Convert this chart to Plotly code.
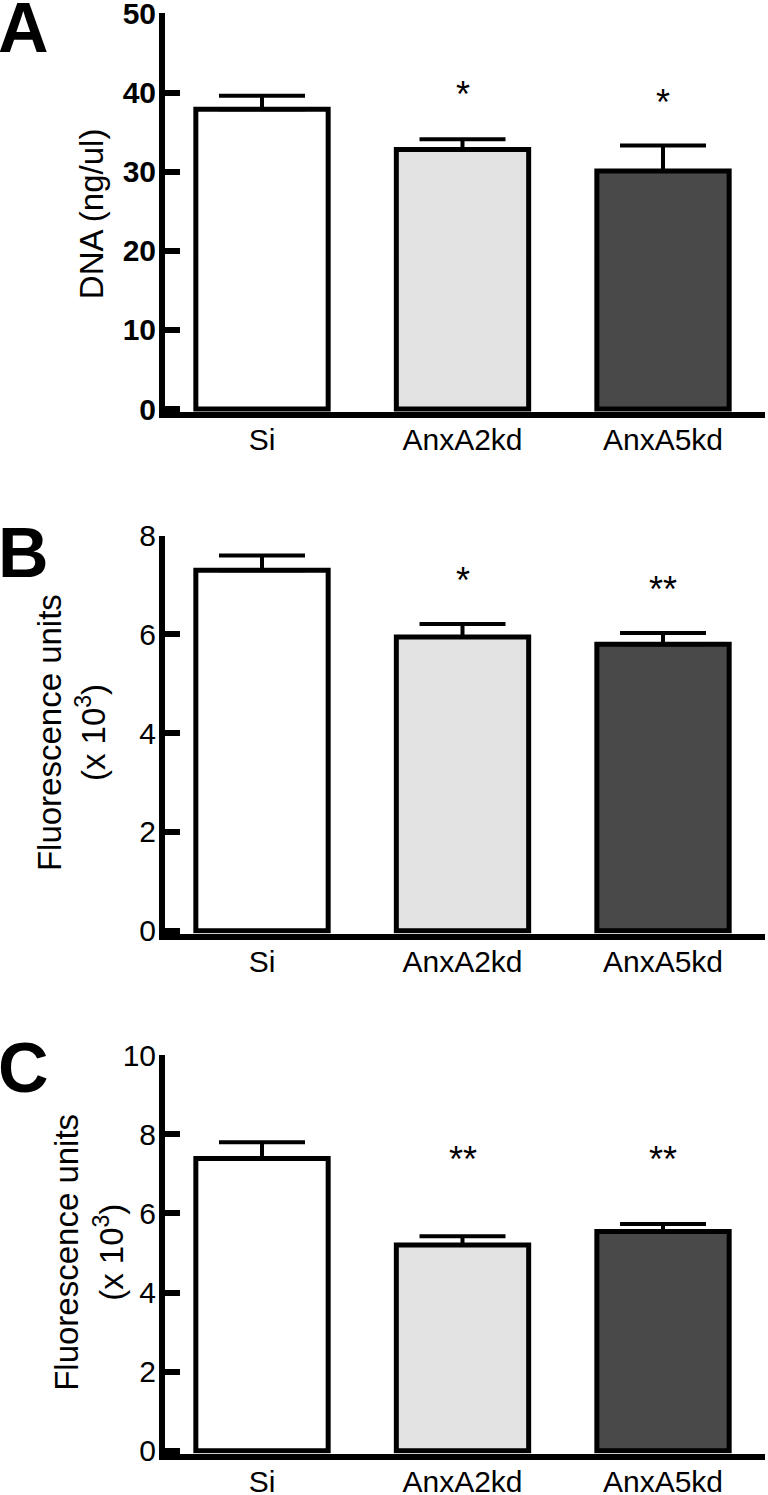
import plotly.graph_objects as go

W, H = 768, 1495

categories = ["Si", "AnxA2kd", "AnxA5kd"]
bar_colors = ["#ffffff", "#e3e3e3", "#494949"]

# Panel A: DNA (ng/ul)
a_values = [37.9, 32.8, 30.1]
a_errors = [1.7, 1.3, 3.2]
a_sig = ["", "*", "*"]
a_sig_y = [0, 39.8, 38.8]

# Panel B: Fluorescence units (x 10^3)
b_values = [7.3, 5.95, 5.8]
b_errors = [0.3, 0.26, 0.23]
b_sig = ["", "*", "**"]
b_sig_y = [0, 7.09, 6.92]

# Panel C: Fluorescence units (x 10^3)
c_values = [7.39, 5.2, 5.54]
c_errors = [0.41, 0.22, 0.19]
c_sig = ["", "**", "**"]
c_sig_y = [0, 7.36, 7.36]

FONT = "Arial, 'Liberation Sans', Helvetica, sans-serif"

panels = [
    dict(vals=a_values, errs=a_errors, sig=a_sig, sig_y=a_sig_y, ymax=50, dtick=10,
         zero_px=415.0, top_px=13.3, bold=True, letter="A"),
    dict(vals=b_values, errs=b_errors, sig=b_sig, sig_y=b_sig_y, ymax=8, dtick=2,
         zero_px=936.7, top_px=535.5, bold=False, letter="B"),
    dict(vals=c_values, errs=c_errors, sig=c_sig, sig_y=c_sig_y, ymax=10, dtick=2,
         zero_px=1456.7, top_px=1055.0, bold=False, letter="C"),
]

fig = go.Figure()
LW = 6
x_left_px, x_right_px = 165.0, 765.0
cat0_px, cat_step = 262.0, 200.5
xr = [-(cat0_px - x_left_px) / cat_step, (x_right_px - cat0_px) / cat_step]

layout = dict(
    width=W, height=H, margin=dict(l=0, r=0, t=0, b=0, autoexpand=False),
    paper_bgcolor="white", plot_bgcolor="white", showlegend=False,
    annotations=[],
)

for i, p in enumerate(panels):
    n = "" if i == 0 else str(i + 1)
    xa, ya = "x" + n, "y" + n
    scale = (p["zero_px"] - p["top_px"]) / p["ymax"]
    dom_bottom_px = p["zero_px"] - LW / 2
    ymin = -(LW / 2) / scale
    fig.add_trace(go.Bar(
        x=list(range(len(categories))), y=p["vals"], xaxis=xa, yaxis=ya,
        width=0.66,
        marker=dict(color=bar_colors, line=dict(color="black", width=5)),
        error_y=dict(type="data", array=p["errs"], arrayminus=[0] * 3, symmetric=False,
                     color="black", thickness=4, width=43),
    ))
    tickfont = dict(family=FONT, size=30, color="black")
    if p["bold"]:
        tickfont["weight"] = "bold"
    layout["xaxis" + n] = dict(
        domain=[x_left_px / W, x_right_px / W], range=xr, anchor=ya,
        tickmode="array", tickvals=list(range(len(categories))), ticktext=categories,
        showline=True, linecolor="black", linewidth=LW, ticks="", showgrid=False,
        zeroline=False, tickfont=dict(family=FONT, size=30, color="black"),
        fixedrange=True, ticklabeloverflow="allow", ticklabelstandoff=-4,
    )
    layout["yaxis" + n] = dict(
        domain=[1 - dom_bottom_px / H, 1 - p["top_px"] / H],
        range=[ymin, p["ymax"] * 1.0005],
        anchor=xa, tickmode="linear", tick0=0, dtick=p["dtick"],
        showline=True, linecolor="black", linewidth=LW, ticks="inside",
        ticklen=15, tickwidth=LW, tickcolor="black", showgrid=False, zeroline=False,
        tickfont=tickfont, fixedrange=True, ticklabeloverflow="allow",
        ticklabelstandoff=-3,
    )
    for j, s in enumerate(p["sig"]):
        if s:
            layout["annotations"].append(dict(
                x=j, y=p["sig_y"][j], xref=xa, yref=ya, text=s, showarrow=False,
                font=dict(family=FONT, size=36, color="black"),
                xanchor="center", yanchor="middle",
            ))
    # panel letter
    letter_top = [8, 533, 1048][i]
    layout["annotations"].append(dict(
        x=0, y=1 - (letter_top - 21) / H, xref="paper", yref="paper",
        text="<b>%s</b>" % p["letter"], showarrow=False,
        font=dict(family=FONT, size=70, color="black"),
        xanchor="left", yanchor="top", xshift=-4,
    ))

# y-axis titles
TS = 33
mid_a = (415 + 13.3) / 2
layout["annotations"].append(dict(
    x=91 / W, y=1 - mid_a / H, xref="paper", yref="paper", text="DNA (ng/ul)",
    textangle=-90, showarrow=False, font=dict(family=FONT, size=TS, color="black"),
    xanchor="center", yanchor="middle"))
for (mid, x1, x2) in [((936.7 + 535.5) / 2 - 3, 49, 91), ((1456.7 + 1055) / 2 - 3, 67, 109)]:
    layout["annotations"].append(dict(
        x=x1 / W, y=1 - mid / H, xref="paper", yref="paper", text="Fluorescence units",
        textangle=-90, showarrow=False, font=dict(family=FONT, size=TS, color="black"),
        xanchor="center", yanchor="middle"))
    layout["annotations"].append(dict(
        x=x2 / W, y=1 - mid / H, xref="paper", yref="paper", text="(x 10<sup>3</sup>)",
        textangle=-90, showarrow=False, font=dict(family=FONT, size=TS, color="black"),
        xanchor="center", yanchor="middle"))

fig.update_layout(**layout)
fig.write_html("out.html", config={"displayModeBar": False},
               post_script="document.body.style.margin='0';document.body.style.overflow='hidden';")
